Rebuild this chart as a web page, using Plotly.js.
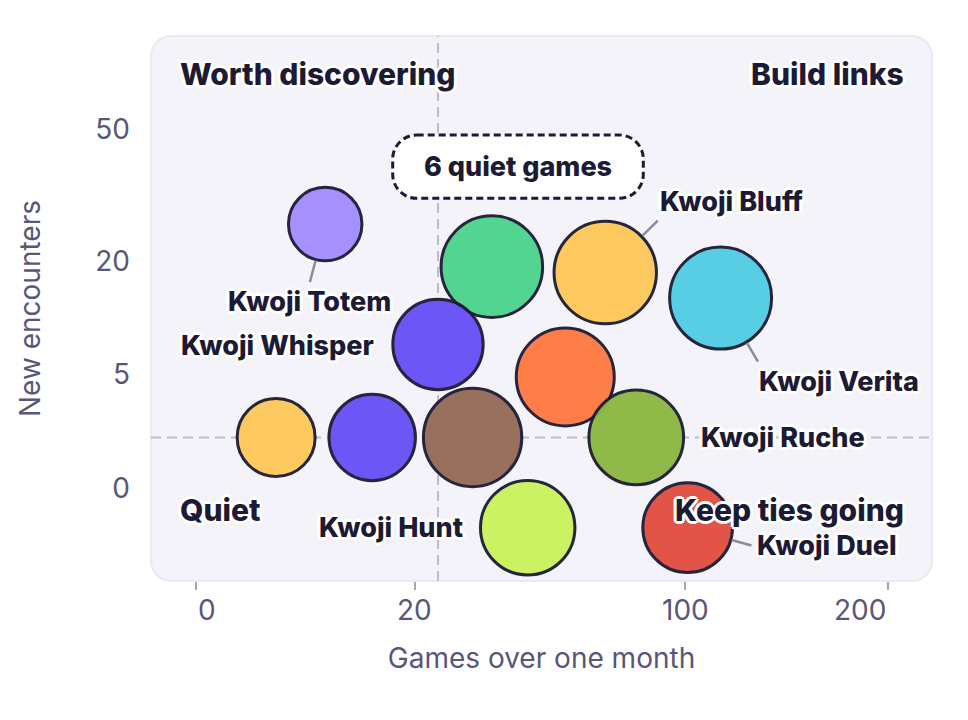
<!DOCTYPE html>
<html>
<head>
<meta charset="utf-8">
<script src="https://cdn.plot.ly/plotly-3.0.1.min.js"></script>
<style>
  html, body { margin: 0; padding: 0; background: #ffffff; }
  #chart { width: 968px; height: 720px; }
</style>
</head>
<body>
<div id="chart"></div>
<script>
// ---------- data ----------
const gameNames      = ['Kwoji Totem', '', 'Kwoji Bluff', 'Kwoji Verita', 'Kwoji Whisper', '', '', '', '', 'Kwoji Ruche', 'Kwoji Hunt', 'Kwoji Duel'];
const gamesPerMonth  = [7, 36.6, 70, 115, 24.5, 57, 2.7, 13, 32, 81, 46, 101];
const newEncounters  = [27, 19, 18, 14, 8, 4.8, 1, 1, 1, 1, -0.6, -0.6];
const bubbleValue    = [135, 258, 262, 260, 204, 240, 152, 187, 242, 224, 223, 201];
const bubbleColors   = ['#a28bfe', '#4ad48b', '#ffc857', '#4fcde2', '#664ef5', '#ff773f', '#ffc857', '#664ef5', '#956955', '#8bb73f', '#caf25c', '#e24c3f'];
const xTickValues    = [0, 20, 100, 200];
const xTickLabels    = ['0', '20', '100', '200'];
const yTickValues    = [0, 5, 20, 50];
const yTickLabels    = ['0', '5', '20', '50'];
const medianGames    = 24.5;
const medianNew      = 1;
const quietCount     = 6;

// ---------- styling / placement ----------
const FONT = 'Inter, "Noto Sans", sans-serif';
const INK = '#1c1a35';
const MUTED = '#5a5679';
const SIZEREF = 0.05;
const PLOT = { l: 151, r: 932, t: 36, b: 581 };
const W = PLOT.r - PLOT.l, H = PLOT.b - PLOT.t;
const pX = p => (p - PLOT.l) / W;
const pY = p => (PLOT.b - p) / H;
const sq = v => Math.sign(v) * Math.sqrt(Math.abs(v));   // sqrt scale
const radius = v => Math.sqrt(v / (2 * SIZEREF));

const halo = ['3px 0', '-3px 0', '0 3px', '0 -3px', '2px 2px', '-2px 2px', '2px -2px', '-2px -2px']
  .map(o => '#ffffff ' + o + ' 0').join(', ');

const labelPlacement = {
  'Kwoji Totem':   { xanchor: 'center', dx: -15.5, dy: 77.2, leader: [-15.7, 59.4] },
  'Kwoji Whisper': { xanchor: 'right',  dx: -62,   dy: 1.5 },
  'Kwoji Bluff':   { xanchor: 'left',   dx: 52.5,  dy: -71.3, leader: [54, -53.5] },
  'Kwoji Verita':  { xanchor: 'left',   dx: 36.3,  dy: 83.7, leader: [38.2, 65.2] },
  'Kwoji Ruche':   { xanchor: 'left',   dx: 63,    dy: 0 },
  'Kwoji Hunt':    { xanchor: 'right',  dx: -62.5, dy: -0.5 },
  'Kwoji Duel':    { xanchor: 'left',   dx: 67,    dy: 18, leader: [65.3, 18.2] }
};

function roundRectPath(x0, y0, x1, y1, r) {
  const X = pX, Y = pY;
  return `M ${X(x0 + r)},${Y(y0)} L ${X(x1 - r)},${Y(y0)} ` +
    `C ${X(x1 - r * 0.45)},${Y(y0)} ${X(x1)},${Y(y0 + r * 0.45)} ${X(x1)},${Y(y0 + r)} ` +
    `L ${X(x1)},${Y(y1 - r)} ` +
    `C ${X(x1)},${Y(y1 - r * 0.45)} ${X(x1 - r * 0.45)},${Y(y1)} ${X(x1 - r)},${Y(y1)} ` +
    `L ${X(x0 + r)},${Y(y1)} ` +
    `C ${X(x0 + r * 0.45)},${Y(y1)} ${X(x0)},${Y(y1 - r * 0.45)} ${X(x0)},${Y(y1 - r)} ` +
    `L ${X(x0)},${Y(y0 + r)} ` +
    `C ${X(x0)},${Y(y0 + r * 0.45)} ${X(x0 + r * 0.45)},${Y(y0)} ${X(x0 + r)},${Y(y0)} Z`;
}

// ---------- traces ----------
const trace = {
  type: 'scatter',
  mode: 'markers',
  x: gamesPerMonth.map(sq),
  y: newEncounters.map(sq),
  text: gameNames,
  hoverinfo: 'text',
  marker: {
    size: bubbleValue,
    sizemode: 'area',
    sizeref: SIZEREF,
    color: bubbleColors,
    opacity: 0.95,
    line: { color: INK, width: 3 }
  },
  cliponaxis: false,
  showlegend: false
};

// ---------- annotations ----------
const annotations = [];

// x tick labels (first flush left, last flush right)
xTickValues.forEach((v, i) => {
  annotations.push({
    xref: 'x', yref: 'paper', x: sq(v), y: pY(610),
    text: xTickLabels[i], showarrow: false,
    xanchor: i === 0 ? 'left' : (i === xTickValues.length - 1 ? 'right' : 'center'),
    yanchor: 'middle',
    font: { family: FONT, size: 28, color: MUTED }
  });
});

// bubble labels + leader lines
const labelFont = { family: FONT, size: 27, color: INK, weight: 800, shadow: halo };
gameNames.forEach((name, i) => {
  const pl = labelPlacement[name];
  if (!name || !pl) return;
  const xv = sq(gamesPerMonth[i]), yv = sq(newEncounters[i]);
  if (pl.leader) {
    annotations.push({
      xref: 'x', yref: 'y', x: xv, y: yv, text: '',
      showarrow: true, arrowhead: 0, arrowwidth: 2.5, arrowcolor: '#8d8b9b',
      ax: pl.leader[0], ay: pl.leader[1], standoff: radius(bubbleValue[i]) + 1
    });
  }
  annotations.push({
    xref: 'x', yref: 'y', x: xv, y: yv, text: name, showarrow: false,
    xanchor: pl.xanchor, yanchor: 'middle', xshift: pl.dx, yshift: -pl.dy,
    font: labelFont
  });
});

// quadrant labels
const quadFont = { family: FONT, size: 30, color: INK, weight: 800, shadow: halo };
annotations.push(
  { xref: 'paper', yref: 'paper', x: pX(178), y: pY(74), text: 'Worth discovering', showarrow: false, xanchor: 'left', yanchor: 'middle', font: quadFont },
  { xref: 'paper', yref: 'paper', x: pX(906), y: pY(74), text: 'Build links', showarrow: false, xanchor: 'right', yanchor: 'middle', font: quadFont },
  { xref: 'paper', yref: 'paper', x: pX(178), y: pY(510), text: 'Quiet', showarrow: false, xanchor: 'left', yanchor: 'middle', font: quadFont },
  { xref: 'paper', yref: 'paper', x: pX(906), y: pY(509.5), text: 'Keep ties going', showarrow: false, xanchor: 'right', yanchor: 'middle', font: quadFont }
);

// callout
annotations.push({
  xref: 'paper', yref: 'paper', x: pX(518.3), y: pY(166), text: quietCount + ' quiet games',
  showarrow: false, xanchor: 'center', yanchor: 'middle',
  font: { family: FONT, size: 27, color: INK, weight: 800 }
});

// ---------- shapes ----------
const shapes = [
  { type: 'path', xref: 'paper', yref: 'paper', layer: 'below',
    path: roundRectPath(PLOT.l, PLOT.t, PLOT.r, PLOT.b, 20),
    fillcolor: '#f4f3f9', line: { color: '#eae9f2', width: 2 } },
  { type: 'line', xref: 'x', yref: 'paper', layer: 'below',
    x0: sq(medianGames), x1: sq(medianGames), y0: 0, y1: 1,
    line: { color: '#bfbdcc', width: 2, dash: '10px,6px' } },
  { type: 'line', xref: 'paper', yref: 'y', layer: 'below',
    x0: 0, x1: 1, y0: sq(medianNew), y1: sq(medianNew),
    line: { color: '#bfbdcc', width: 2, dash: '10px,6px' } },
  { type: 'path', xref: 'paper', yref: 'paper', layer: 'below',
    path: roundRectPath(392.7, 135, 643.3, 198.3, 24),
    fillcolor: '#ffffff', line: { color: INK, width: 3, dash: '7px,4px' } }
];

// ---------- layout ----------
const layout = {
  width: 968, height: 720,
  margin: { l: PLOT.l, r: 968 - PLOT.r, t: PLOT.t, b: 720 - PLOT.b, pad: 0 },
  paper_bgcolor: '#ffffff',
  plot_bgcolor: 'rgba(0,0,0,0)',
  font: { family: FONT, color: MUTED, size: 28 },
  showlegend: false,
  xaxis: {
    range: [(PLOT.l - 195.7) / 48.95, (PLOT.r - 195.7) / 48.95],
    tickvals: xTickValues.map(sq),
    ticktext: xTickLabels,
    showticklabels: false,
    ticks: 'outside', ticklen: 8, tickwidth: 2, tickcolor: '#a8a6b6',
    showgrid: false, zeroline: false, showline: false,
    fixedrange: true,
    title: { text: 'Games over one month', font: { family: FONT, size: 28, color: MUTED }, standoff: 59 }
  },
  yaxis: {
    range: [(488.3 - PLOT.b) / 50.85, (488.3 - PLOT.t) / 50.85],
    tickvals: yTickValues.map(sq),
    ticktext: yTickLabels,
    ticks: '', ticklabelstandoff: 20,
    tickfont: { family: FONT, size: 28, color: MUTED },
    showgrid: false, zeroline: false, showline: false,
    fixedrange: true,
    title: { text: 'New encounters', font: { family: FONT, size: 28, color: MUTED }, standoff: 46 }
  },
  shapes: shapes,
  annotations: annotations
};

Plotly.newPlot('chart', [trace], layout, { displayModeBar: false, staticPlot: true });
</script>
</body>
</html>
